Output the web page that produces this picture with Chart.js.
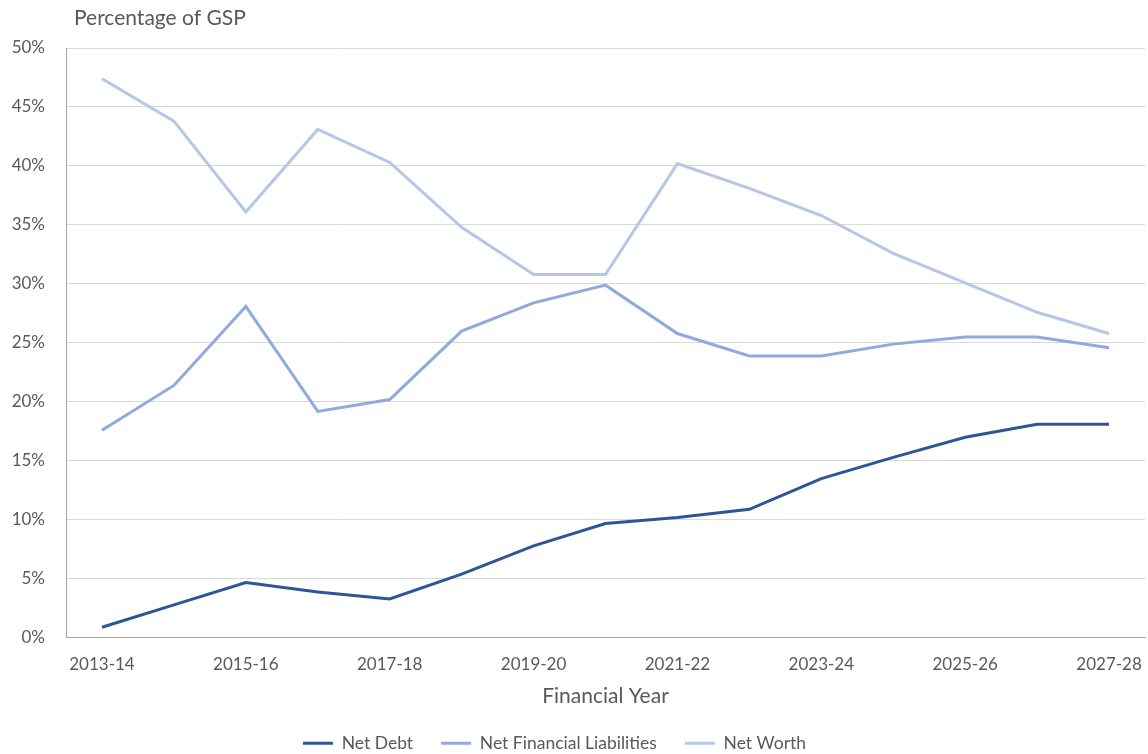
<!DOCTYPE html>
<html>
<head>
<meta charset="utf-8">
<script src="https://cdn.jsdelivr.net/npm/chart.js@4"></script>
<style>
  html, body { margin: 0; padding: 0; background: #fff; }
  #wrap { width: 1148px; height: 754px; position: relative; }
</style>
</head>
<body>
<div id="wrap"><canvas id="chart"></canvas></div>
<script>
const years = [
  "2013-14", "2014-15", "2015-16", "2016-17", "2017-18", "2018-19", "2019-20",
  "2020-21", "2021-22", "2022-23", "2023-24", "2024-25", "2025-26", "2026-27", "2027-28"
];
const netDebt = [0.9, 2.8, 4.7, 3.9, 3.3, 5.4, 7.8, 9.7, 10.2, 10.9, 13.5, 15.3, 17.0, 18.1, 18.1];
const netFinLiab = [17.6, 21.4, 28.1, 19.2, 20.2, 26.0, 28.4, 29.9, 25.8, 23.9, 23.9, 24.9, 25.5, 25.5, 24.6];
const netWorth = [47.4, 43.8, 36.1, 43.1, 40.3, 34.8, 30.8, 30.8, 40.2, 38.1, 35.8, 32.6, 30.1, 27.6, 25.8];

const FONT = "Lato, 'Liberation Sans', sans-serif";
const TEXT = "#595959";

// y-axis caption sits above the plot, left aligned
const topCaption = {
  id: "topCaption",
  afterDraw(chart) {
    const ctx = chart.ctx;
    ctx.save();
    ctx.font = "21px " + FONT;
    ctx.fillStyle = TEXT;
    ctx.textBaseline = "middle";
    ctx.fillText("Percentage of GSP", 74, 18);
    ctx.restore();
  }
};

// nudge the legend row a bit left of centre
const legendShift = {
  id: "legendShift",
  afterLayout(chart) {
    const dx = 24;
    chart.legend.left -= dx;
    chart.legend.right -= dx;
  }
};

const line = (label, data, color) => ({
  label,
  data,
  borderColor: color,
  backgroundColor: color,
  borderWidth: 3,
  pointRadius: 0,
  tension: 0,
  fill: false
});

new Chart(document.getElementById("chart"), {
  type: "line",
  data: {
    labels: years,
    datasets: [
      line("Net Debt", netDebt, "#2F5597"),
      line("Net Financial Liabilities", netFinLiab, "#8FAADC"),
      line("Net Worth", netWorth, "#B4C7E7")
    ]
  },
  plugins: [topCaption, legendShift],
  options: {
    responsive: true,
    maintainAspectRatio: false,
    animation: false,
    layout: { padding: { top: 48, left: 12, right: 3, bottom: -8 } },
    plugins: {
      tooltip: { enabled: false },
      legend: {
        position: "bottom",
        labels: {
          color: TEXT,
          font: { family: FONT, size: 17.5 },
          boxWidth: 30,
          boxHeight: 3,
          padding: 28,
          generateLabels(chart) {
            return Chart.defaults.plugins.legend.labels.generateLabels(chart).map((l) => {
              l.fillStyle = l.strokeStyle;
              l.lineWidth = 0;
              return l;
            });
          }
        }
      }
    },
    scales: {
      x: {
        offset: true,
        // end labels fit inside the category offset, no extra side room
        afterFit(scale) {
          scale.paddingLeft = 0;
          scale.paddingRight = 0;
        },
        grid: { display: false, drawTicks: false },
        border: { display: true, color: "#a6a6a6", width: 1 },
        ticks: {
          color: TEXT,
          font: { family: FONT, size: 17 },
          padding: 16,
          autoSkip: false,
          maxRotation: 0,
          callback: (v, i) => (i % 2 === 0 ? years[i] : "")
        },
        title: {
          display: true,
          text: "Financial Year",
          color: TEXT,
          font: { family: FONT, size: 21 },
          padding: { top: -7, bottom: -2 }
        }
      },
      y: {
        min: 0,
        max: 50,
        afterFit(scale) {
          scale.width = 54;
        },
        grid: { color: "#d9d9d9", drawTicks: false },
        border: { display: true, color: "#a6a6a6", width: 1 },
        ticks: {
          stepSize: 5,
          color: TEXT,
          font: { family: FONT, size: 17 },
          padding: 21,
          callback: (v) => v + "%"
        }
      }
    }
  }
});
</script>
</body>
</html>
